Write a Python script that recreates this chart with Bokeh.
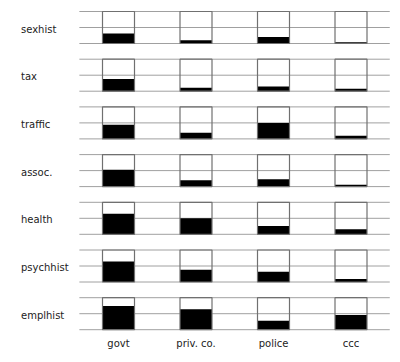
from bokeh.plotting import figure
from bokeh.models import Range1d
from bokeh.core.properties import value
from bokeh.embed import file_html
from bokeh.resources import INLINE

rows = ["sexhist", "tax", "traffic", "assoc.", "health", "psychhist", "emplhist"]
cols = ["govt", "priv. co.", "police", "ccc"]
# fraction of each box filled (rows x cols)
govt = [0.31, 0.38, 0.44, 0.53, 0.64, 0.64, 0.74]
privco = [0.10, 0.11, 0.19, 0.20, 0.50, 0.38, 0.64]
police = [0.20, 0.15, 0.50, 0.23, 0.26, 0.32, 0.28]
ccc = [0.04, 0.08, 0.10, 0.06, 0.16, 0.09, 0.46]
series = [govt, privco, police, ccc]

W, H = 400, 362
xu = 77.5   # px per column
yu = 47.7   # px per row
x0 = 118.0  # px of first column center
y0 = 43.0   # px of first row bottom
BOXW = 32 / xu
BOXH = 32 / yu

p = figure(width=W, height=H, output_backend="svg", toolbar_location=None,
           x_range=Range1d(-x0 / xu, (W - x0) / xu),
           y_range=Range1d(-(H - y0) / yu, y0 / yu),
           min_border=0, outline_line_color=None)
p.axis.visible = False
p.grid.visible = False
p.background_fill_color = "white"
p.border_fill_color = "white"

# horizontal guide lines
xs, ys = [], []
for i in range(len(rows)):
    base = -i
    for f in (0.0, 0.5, 1.0):
        y = base + f * BOXH
        xs.append([-0.505, 3.5])
        ys.append([y, y])
p.multi_line(xs, ys, line_color="#a0a0a0", line_width=1)

# boxes
bx, by, fx, fy, fh = [], [], [], [], []
for i in range(len(rows)):
    for j in range(len(cols)):
        v = series[j][i]
        bx.append(j)
        by.append(-i + BOXH / 2)
        fx.append(j)
        fy.append(-i + v * BOXH / 2)
        fh.append(v * BOXH)

p.rect(x=fx, y=fy, width=BOXW, height=fh, fill_color="black", line_color=None)
p.rect(x=bx, y=by, width=BOXW, height=BOXH, fill_color=None,
       line_color="#707070", line_width=1.2)

# row labels
p.text(x=[(20.5 - x0) / xu] * len(rows),
       y=[-i + BOXH / 2 - 1.5 / yu for i in range(len(rows))],
       text=rows, text_font=value("DejaVu Sans"), text_font_size="10px",
       text_baseline="middle", text_align="left", text_color="#222222")
# column labels
p.text(x=list(range(len(cols))), y=[-(343 - y0) / yu] * len(cols), text=cols,
       text_font=value("DejaVu Sans"), text_font_size="10px",
       text_baseline="middle", text_align="center", text_color="#222222")

open("out.html", "w").write(file_html(p, INLINE))
